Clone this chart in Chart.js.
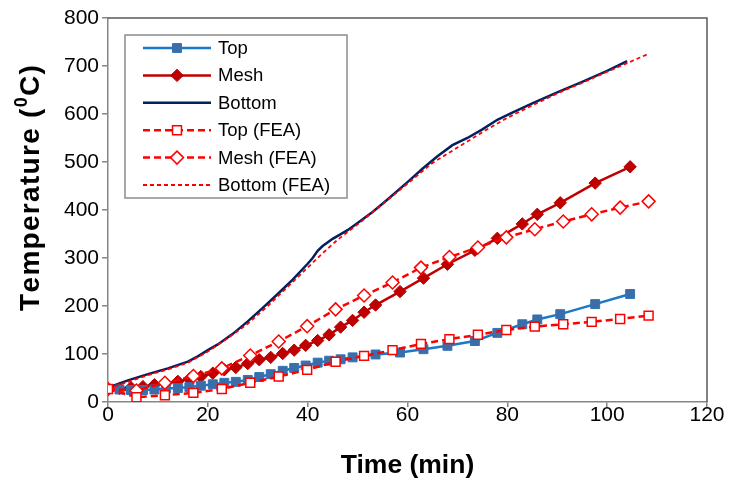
<!DOCTYPE html>
<html>
<head>
<meta charset="utf-8">
<script src="https://cdn.jsdelivr.net/npm/chart.js@4/dist/chart.umd.min.js"></script>
<style>
  html, body { margin: 0; padding: 0; background: #fff; }
  #wrap { width: 731px; height: 489px; }
</style>
</head>
<body>
<div id="wrap"><canvas id="chart" width="731" height="489"></canvas></div>
<script>
// measured series (time in min, temperature in deg C)
const expTime = [0, 2.3, 4.6, 7, 9.3, 11.6, 14, 16.3, 18.6, 21, 23.3, 25.6, 28, 30.3, 32.6, 35, 37.3, 39.6, 42,
    44.3, 46.6, 49, 51.3, 53.6, 58.5, 63.2, 68, 73.5, 78, 83, 86, 90.6, 97.6, 104.6];
const topTemp = [27, 26, 25, 25, 26, 28, 29, 31, 34, 37, 40, 42, 46, 52, 58, 65, 71, 76, 82,
    86, 89, 93, 96, 99, 103, 110, 117, 127, 144, 162, 172, 183, 204, 225];
const meshTemp = [27, 28, 30, 32, 36, 39, 43, 48, 53, 60, 67, 72, 80, 88, 93, 101, 108, 118, 128,
    140, 156, 170, 187, 202, 230, 258, 287, 316, 341, 371, 391, 415, 456, 490];

const bottomTime = [0, 4, 8, 12, 16, 18, 20, 22, 25, 28, 31, 34, 37, 40, 41, 42, 43, 45, 48, 50, 53, 56,
    60, 63, 66, 69, 72, 75, 78, 81, 85, 90, 95, 100, 104];
const bottomTemp = [30, 45, 58, 70, 84, 95, 108, 120, 142, 168, 196, 225, 255, 288, 300, 315, 325, 340, 358, 373, 396, 422,
    458, 486, 512, 535, 550, 568, 588, 603, 622, 645, 667, 690, 710];

// FEA series
const feaTime = [0, 5.7, 11.4, 17.1, 22.8, 28.5, 34.2, 39.9, 45.6, 51.3, 57, 62.7, 68.4, 74.1, 79.8, 85.5,
    91.2, 96.9, 102.6, 108.3];
const topFeaTemp = [27, 10, 14, 19, 27, 40, 53, 67, 84, 96, 108, 121, 131, 140, 150, 157, 162, 167, 173, 180];
const meshFeaTemp = [27, 24, 40, 54, 70, 97, 126, 158, 193, 222, 249, 280, 302, 322, 343, 360, 376, 391, 405, 418];

const bottomFeaTime = [0, 4, 8, 12, 16, 20, 24, 28, 32, 36, 40, 43, 46, 50, 55, 60, 65, 70, 75, 80, 85, 90,
    95, 100, 104, 108];
const bottomFeaTemp = [28, 42, 56, 68, 82, 105, 133, 163, 200, 240, 280, 310, 338, 370, 412, 455, 498, 530, 562, 592, 618, 643,
    665, 688, 706, 724];

const xTicks = [0, 20, 40, 60, 80, 100, 120];
const yTicks = [0, 100, 200, 300, 400, 500, 600, 700, 800];

const FONT = "'Liberation Sans', Arial, sans-serif";

function pts(xs, ys) {
    return xs.map((x, i) => ({ x: x, y: ys[i] }));
}

const datasets = [
    {
        label: 'Top', data: pts(expTime, topTemp), order: 2,
        borderColor: '#1a78c9', borderWidth: 2.5,
        pointStyle: 'rect', pointRadius: 6.3, pointBackgroundColor: '#3d6da8', pointBorderColor: '#2e74b5', pointBorderWidth: 1,
    },
    {
        label: 'Mesh', data: pts(expTime, meshTemp), order: 2,
        borderColor: '#c00000', borderWidth: 2.5,
        pointStyle: 'rectRot', pointRadius: 6.2, pointBackgroundColor: '#c00000', pointBorderColor: '#b00000', pointBorderWidth: 1,
    },
    {
        label: 'Bottom', data: pts(bottomTime, bottomTemp), order: 2,
        borderColor: '#002060', borderWidth: 2.5, pointRadius: 0,
    },
    {
        label: 'Top (FEA)', data: pts(feaTime, topFeaTemp), order: 1,
        borderColor: '#ff0000', borderWidth: 2.5, borderDash: [7, 4],
        pointStyle: 'rect', pointRadius: 6.3, pointBackgroundColor: '#ffffff', pointBorderColor: '#ff0000', pointBorderWidth: 1.5,
    },
    {
        label: 'Mesh (FEA)', data: pts(feaTime, meshFeaTemp), order: 1,
        borderColor: '#ff0000', borderWidth: 2.5, borderDash: [7, 4],
        pointStyle: 'rectRot', pointRadius: 6.5, pointBackgroundColor: '#ffffff', pointBorderColor: '#ff0000', pointBorderWidth: 1.5,
    },
    {
        label: 'Bottom (FEA)', data: pts(bottomFeaTime, bottomFeaTemp), order: 1,
        borderColor: '#ff0000', borderWidth: 1.8, borderDash: [4, 3], pointRadius: 0,
    },
];

function drawMarker(ctx, ds, x, y) {
    if (!ds.pointRadius) return;
    const r = ds.pointRadius;
    ctx.beginPath();
    if (ds.pointStyle === 'rect') {
        const s = r * Math.SQRT1_2;
        ctx.rect(x - s, y - s, 2 * s, 2 * s);
    } else {
        ctx.moveTo(x, y - r);
        ctx.lineTo(x + r, y);
        ctx.lineTo(x, y + r);
        ctx.lineTo(x - r, y);
        ctx.closePath();
    }
    ctx.setLineDash([]);
    ctx.fillStyle = ds.pointBackgroundColor;
    ctx.fill();
    ctx.lineWidth = ds.pointBorderWidth;
    ctx.strokeStyle = ds.pointBorderColor;
    ctx.stroke();
}

// y title drawn by hand so the "0" can sit raised and small
function drawYTitle(ctx) {
    const big = 'bold 28px ' + FONT;
    const small = 'bold 18px ' + FONT;
    const spacing = 1.3;
    const parts = [];
    for (const ch of 'Temperature (') parts.push({ ch, font: big, dy: 0 });
    parts.push({ ch: '0', font: small, dy: -9 });
    for (const ch of 'C)') parts.push({ ch, font: big, dy: 0 });
    let total = 0;
    parts.forEach(p => { ctx.font = p.font; p.w = ctx.measureText(p.ch).width; total += p.w + spacing; });
    total -= spacing;
    ctx.save();
    ctx.translate(30, 188);
    ctx.rotate(-Math.PI / 2);
    ctx.fillStyle = '#000';
    ctx.textBaseline = 'middle';
    ctx.textAlign = 'left';
    let x = -total / 2;
    parts.forEach(p => {
        ctx.font = p.font;
        ctx.fillText(p.ch, x, p.dy + 1);
        x += p.w + spacing;
    });
    ctx.restore();
}

// plot frame on top/right, boxed legend inside the plot area, y title
const frameAndLegend = {
    id: 'frameAndLegend',
    afterDraw(chart) {
        const ctx = chart.ctx;
        const a = chart.chartArea;
        ctx.save();
        ctx.strokeStyle = '#595959';
        ctx.lineWidth = 1.5;
        ctx.beginPath();
        ctx.moveTo(a.left, a.top);
        ctx.lineTo(a.right, a.top);
        ctx.lineTo(a.right, a.bottom);
        ctx.stroke();

        const bx = 125, by = 35, bw = 222, bh = 163;
        ctx.fillStyle = '#ffffff';
        ctx.fillRect(bx, by, bw, bh);
        ctx.strokeStyle = '#8c8c8c';
        ctx.lineWidth = 1.5;
        ctx.strokeRect(bx, by, bw, bh);

        ctx.textBaseline = 'middle';
        datasets.forEach((ds, i) => {
            const y = 48 + i * 27.4;
            ctx.beginPath();
            ctx.setLineDash(ds.borderDash || []);
            ctx.strokeStyle = ds.borderColor;
            ctx.lineWidth = ds.borderWidth;
            ctx.moveTo(143, y);
            ctx.lineTo(211, y);
            ctx.stroke();
            drawMarker(ctx, ds, 177, y);
            ctx.fillStyle = '#000';
            ctx.font = '18.5px ' + FONT;
            ctx.fillText(ds.label, 218, y + 1);
        });
        ctx.restore();
        drawYTitle(ctx);
    },
};

new Chart(document.getElementById('chart'), {
    type: 'line',
    data: { datasets },
    plugins: [frameAndLegend],
    options: {
        responsive: false,
        animation: false,
        layout: { padding: { top: 18, right: 24, left: 0, bottom: 0 } },
        plugins: { legend: { display: false }, tooltip: { enabled: false } },
        elements: { line: { tension: 0, fill: false } },
        scales: {
            x: {
                type: 'linear', min: 0, max: 120,
                afterBuildTicks: (s) => { s.ticks = xTicks.map(v => ({ value: v })); },
                afterFit: (s) => { s.height = 87; },
                border: { color: '#868686', width: 1.5 },
                grid: { drawOnChartArea: false, color: '#868686', tickLength: 5, lineWidth: 1.5 },
                ticks: { color: '#000', font: { family: FONT, size: 21 }, padding: -4, maxRotation: 0 },
                title: {
                    display: true, text: 'Time (min)', color: '#000',
                    font: { family: FONT, size: 26.5, weight: 'bold' }, padding: { top: 0, bottom: 7 },
                },
            },
            y: {
                type: 'linear', min: 0, max: 800,
                afterBuildTicks: (s) => { s.ticks = yTicks.map(v => ({ value: v })); },
                afterFit: (s) => { s.width = 108; },
                border: { color: '#868686', width: 1.5 },
                grid: { drawOnChartArea: false, color: '#868686', tickLength: 6, lineWidth: 1.5 },
                ticks: { color: '#000', font: { family: FONT, size: 21 }, padding: 3 },
            },
        },
    },
});
</script>
</body>
</html>
